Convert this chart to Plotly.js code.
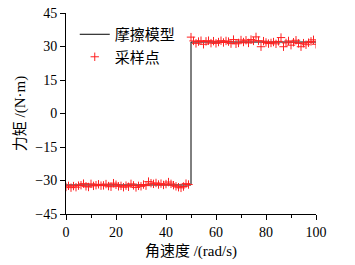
<!DOCTYPE html>
<html>
<head>
<meta charset="utf-8">
<script src="https://cdn.plot.ly/plotly-3.0.1.min.js"></script>
<style>html,body{margin:0;padding:0;background:#fff;}#chart{width:355px;height:265px;}</style>
</head>
<body>
<div id="chart"></div>
<script>
// Friction model (step at 50 rad/s)
var modelX = [0, 50, 50, 100];
var modelY = [-32, -32, 32, 32];

// Sampled points
var sampleXLeft = [];
for (var i = 0; i <= 49; i++) sampleXLeft.push(i);
var sampleYLeft = [
  -32.9,-32.4,-33.2,-32.5,-33.0,-32.3,-32.1,-31.4,-32.6,-32.9,
  -31.5,-32.4,-32.1,-31.7,-32.3,-32.2,-31.6,-32.5,-32.8,-31.2,
  -31.9,-32.6,-32.4,-33.0,-32.3,-32.8,-31.5,-32.2,-33.1,-32.4,
  -32.6,-31.8,-32.3,-30.5,-31.2,-31.5,-31.1,-31.8,-31.4,-32.0,
  -31.6,-30.7,-31.5,-32.1,-32.6,-33.0,-33.3,-32.7,-31.4,-31.8
];
var sampleXRight = [];
for (var j = 50; j <= 100; j++) sampleXRight.push(j);
var sampleYRight = [
  34.2,32.5,31.4,32.2,32.6,31.0,32.3,32.6,31.5,32.4,
  31.4,32.0,32.6,31.8,32.5,32.2,31.3,33.1,31.2,31.6,
  32.9,32.0,32.8,31.6,33.1,32.5,34.3,32.6,29.9,32.4,
  31.8,31.3,31.6,32.0,31.2,32.3,34.0,29.9,31.6,32.5,
  30.6,31.9,32.8,31.4,29.9,31.5,30.8,31.7,32.3,33.0,
  31.0
];
var sampleX = sampleXLeft.concat(sampleXRight);
var sampleY = sampleYLeft.concat(sampleYRight);

var xTicks = [0, 20, 40, 60, 80, 100];
var yTicks = [-45, -30, -15, 0, 15, 30, 45];

var FONT = "'Liberation Serif', 'Times New Roman', 'Noto Sans CJK SC', serif";

var traces = [
  {x: modelX, y: modelY, mode: 'lines', name: '摩擦模型',
   line: {color: '#000', width: 1}, hoverinfo: 'skip'},
  {x: sampleX, y: sampleY, mode: 'markers', name: '采样点',
   marker: {symbol: 'cross-thin-open', size: 6, color: '#ff2020', line: {color: '#ff2020', width: 1}}}
];

var layout = {
  width: 355, height: 265,
  margin: {l: 66, r: 39, t: 13, b: 51},
  paper_bgcolor: '#fff', plot_bgcolor: '#fff',
  font: {family: FONT, size: 14, color: '#000'},
  showlegend: true,
  legend: {x: 0.035, y: 0.975, xanchor: 'left', yanchor: 'top', bgcolor: 'rgba(0,0,0,0)',
           font: {family: FONT, size: 15}, tracegroupgap: 0},
  xaxis: {
    range: [0, 100], tickvals: xTicks, ticks: 'outside', ticklen: 5, tickcolor: '#000',
    showline: true, linecolor: '#000', linewidth: 1, showgrid: false, zeroline: false,
    minor: {dtick: 10, ticks: 'outside', ticklen: 3, tickcolor: '#000', showgrid: false},
    tickfont: {family: FONT, size: 14},
    title: {text: '角速度 /(rad/s)', font: {family: FONT, size: 15}, standoff: 6}
  },
  yaxis: {
    range: [-45, 45], tickvals: yTicks, ticks: 'outside', ticklen: 5, tickcolor: '#000',
    showline: true, linecolor: '#000', linewidth: 1, showgrid: false, zeroline: false,
    tickfont: {family: FONT, size: 14},
    title: {text: '力矩 /(N·m)', font: {family: FONT, size: 15}, standoff: 6}
  }
};

Plotly.newPlot('chart', traces, layout, {staticPlot: true, displayModeBar: false});
</script>
</body>
</html>
